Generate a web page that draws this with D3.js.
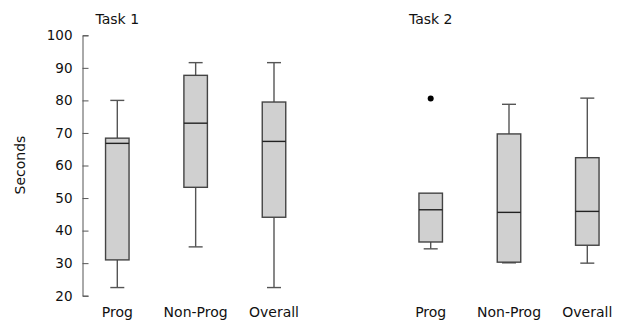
<!DOCTYPE html>
<html>
<head>
<meta charset="utf-8">
<script src="https://cdn.jsdelivr.net/npm/d3@7"></script>
<style>
  html, body { margin: 0; padding: 0; background: #fff; }
  svg { display: block; font-family: "DejaVu Sans", sans-serif; }
</style>
</head>
<body>
<svg id="chart" width="620" height="322"></svg>
<script>
const categories = ["Prog", "Non-Prog", "Overall"];
const panelTitles = ["Task 1", "Task 2"];
const yTicks = [20, 30, 40, 50, 60, 70, 80, 90, 100];

// Task 1
const t1Low  = [22.5, 35.0, 22.5];
const t1Q1   = [31.0, 53.3, 44.1];
const t1Med  = [66.8, 73.0, 67.4];
const t1Q3   = [68.4, 87.7, 79.5];
const t1High = [80.0, 91.6, 91.6];
const t1Out  = [[], [], []];

// Task 2
const t2Low  = [34.4, 30.1, 30.0];
const t2Q1   = [36.5, 30.3, 35.5];
const t2Med  = [46.4, 45.6, 45.9];
const t2Q3   = [51.5, 69.7, 62.4];
const t2High = [51.5, 78.8, 80.7];
const t2Out  = [[80.6], [], []];

const panels = [
  {title: panelTitles[0], low: t1Low, q1: t1Q1, med: t1Med, q3: t1Q3, high: t1High, out: t1Out, range: [117.3, 274]},
  {title: panelTitles[1], low: t2Low, q1: t2Q1, med: t2Med, q3: t2Q3, high: t2High, out: t2Out, range: [430.7, 587.3]}
];

const svg = d3.select("#chart");
const y = d3.scaleLinear().domain([20, 100]).range([295.7, 35.3]);
const boxW = 23.5, capW = 14;
const edge = "#444", whisk = "#555", fill = "#d0d0d0";

// y axis
const yAxis = d3.axisLeft(y).tickValues(yTicks).tickSizeInner(-6).tickSizeOuter(-6).tickPadding(10);
const ga = svg.append("g").attr("transform", "translate(82.5,0)").call(yAxis);
ga.selectAll("path, line").attr("stroke", "#555").attr("stroke-width", 1);
ga.selectAll("text").attr("font-size", 13.5).attr("fill", "#111").attr("font-family", "DejaVu Sans, sans-serif");

svg.append("text")
  .attr("transform", "translate(25,165) rotate(-90)")
  .attr("text-anchor", "middle")
  .attr("font-size", 14).attr("fill", "#111")
  .text("Seconds");

panels.forEach(p => {
  const x = d3.scalePoint().domain(categories).range(p.range);
  const g = svg.append("g");

  g.append("text").attr("x", x(categories[0])).attr("y", 24)
    .attr("text-anchor", "middle").attr("font-size", 14).attr("fill", "#111")
    .text(p.title);

  categories.forEach((c, i) => {
    const cx = x(c);
    if (p.high[i] > p.q3[i]) {
      g.append("line").attr("x1", cx).attr("x2", cx).attr("y1", y(p.q3[i])).attr("y2", y(p.high[i]))
        .attr("stroke", whisk).attr("stroke-width", 1.4);
      g.append("line").attr("x1", cx - capW/2).attr("x2", cx + capW/2).attr("y1", y(p.high[i])).attr("y2", y(p.high[i]))
        .attr("stroke", whisk).attr("stroke-width", 1.4);
    }
    if (p.low[i] < p.q1[i]) {
      g.append("line").attr("x1", cx).attr("x2", cx).attr("y1", y(p.q1[i])).attr("y2", y(p.low[i]))
        .attr("stroke", whisk).attr("stroke-width", 1.4);
      g.append("line").attr("x1", cx - capW/2).attr("x2", cx + capW/2).attr("y1", y(p.low[i])).attr("y2", y(p.low[i]))
        .attr("stroke", whisk).attr("stroke-width", 1.4);
    }
    g.append("rect").attr("x", cx - boxW/2).attr("width", boxW)
      .attr("y", y(p.q3[i])).attr("height", y(p.q1[i]) - y(p.q3[i]))
      .attr("fill", fill).attr("stroke", edge).attr("stroke-width", 1.4);
    g.append("line").attr("x1", cx - boxW/2).attr("x2", cx + boxW/2).attr("y1", y(p.med[i])).attr("y2", y(p.med[i]))
      .attr("stroke", "#222").attr("stroke-width", 1.4);
    p.out[i].forEach(v => {
      g.append("circle").attr("cx", cx).attr("cy", y(v)).attr("r", 3).attr("fill", "#000");
    });
    g.append("text").attr("x", cx).attr("y", 317).attr("text-anchor", "middle")
      .attr("font-size", 14).attr("fill", "#111").text(c);
  });
});
</script>
</body>
</html>
